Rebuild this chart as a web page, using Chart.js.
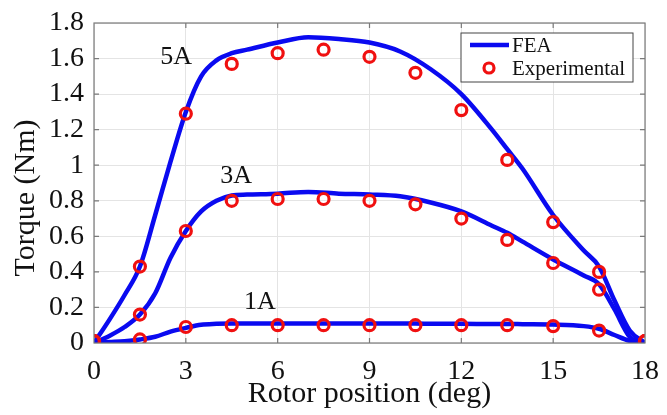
<!DOCTYPE html>
<html>
<head>
<meta charset="utf-8">
<script src="https://cdn.jsdelivr.net/npm/chart.js@4.4.0/dist/chart.umd.min.js"></script>
<style>
  html, body { margin: 0; padding: 0; background: #fff; }
  #wrap { width: 667px; height: 415px; }
</style>
</head>
<body>
<div id="wrap"><canvas id="torqueChart" width="667" height="415"></canvas></div>
<script>
// FEA curves (rotor position in deg, torque in Nm)
const feaX   = [0, 0.5, 1, 1.5, 2, 2.5, 3, 3.5, 4, 4.5, 5, 6, 7, 8, 9, 10, 11, 12, 13, 13.5, 14, 15, 16, 16.5, 17, 17.5, 18];
const fea5A  = [0, 0.13, 0.27, 0.43, 0.72, 1.02, 1.30, 1.50, 1.59, 1.63, 1.65, 1.69, 1.72, 1.71, 1.69, 1.64, 1.54, 1.40, 1.20, 1.09, 0.98, 0.72, 0.52, 0.43, 0.24, 0.07, 0];
const fea3A  = [0, 0.04, 0.09, 0.16, 0.28, 0.48, 0.63, 0.74, 0.80, 0.83, 0.835, 0.84, 0.85, 0.84, 0.835, 0.825, 0.79, 0.74, 0.66, 0.62, 0.57, 0.47, 0.38, 0.33, 0.19, 0.035, 0];
const fea1A  = [0, 0.005, 0.01, 0.02, 0.035, 0.064, 0.085, 0.103, 0.108, 0.11, 0.11, 0.11, 0.11, 0.11, 0.11, 0.11, 0.108, 0.108, 0.107, 0.107, 0.106, 0.104, 0.095, 0.08, 0.045, 0.012, 0];

// Experimental points
const expX   = [0, 1.5, 3, 4.5, 6, 7.5, 9, 10.5, 12, 13.5, 15, 16.5, 18];
const exp5A  = [0.01, 0.43, 1.29, 1.57, 1.63, 1.65, 1.61, 1.52, 1.31, 1.03, 0.68, 0.40, 0.01];
const exp3A  = [0.01, 0.16, 0.63, 0.80, 0.81, 0.81, 0.80, 0.78, 0.70, 0.58, 0.45, 0.30, 0.01];
const exp1A  = [0.01, 0.02, 0.09, 0.10, 0.10, 0.10, 0.10, 0.10, 0.10, 0.10, 0.095, 0.07, 0.01];

// curve labels
const curveLabels = ['5A', '3A', '1A'];
const labelX = [2.68, 4.64, 5.42];
const labelY = [1.61, 0.94, 0.23];

const blue = '#0a0af0';
const red = '#f01010';
const serif = "'Liberation Serif', 'Times New Roman', serif";

function pts(xs, ys) {
    return xs.map((x, i) => ({ x: x, y: ys[i] }));
}

function feaSet(ys, name) {
    return {
        label: name,
        data: pts(feaX, ys),
        showLine: true,
        borderColor: blue,
        borderWidth: 4.5,
        pointRadius: 0,
        fill: false,
        cubicInterpolationMode: 'monotone',
        order: 2
    };
}

function expSet(ys, name) {
    return {
        label: name,
        data: pts(expX, ys),
        showLine: false,
        pointStyle: 'circle',
        pointRadius: 5.5,
        pointBorderWidth: 3.2,
        pointBorderColor: red,
        pointBackgroundColor: 'rgba(0,0,0,0)',
        order: 1
    };
}

// frame, inner ticks, y title, curve labels and legend box
const extras = {
    id: 'extras',
    afterDraw(chart) {
        const c = chart.ctx;
        const a = chart.chartArea;
        const xs = chart.scales.x, ys = chart.scales.y;
        c.save();
        c.strokeStyle = '#7a7a7a';
        c.lineWidth = 1.2;
        c.strokeRect(a.left, a.top, a.right - a.left, a.bottom - a.top);
        // small inward ticks
        c.beginPath();
        for (let v = 3; v < 18; v += 3) {
            const px = xs.getPixelForValue(v);
            c.moveTo(px, a.top); c.lineTo(px, a.top + 5);
            c.moveTo(px, a.bottom); c.lineTo(px, a.bottom - 5);
        }
        for (let v = 0.2; v < 1.79; v += 0.2) {
            const py = ys.getPixelForValue(v);
            c.moveTo(a.right, py); c.lineTo(a.right - 5, py);
            c.moveTo(a.left, py); c.lineTo(a.left + 5, py);
        }
        c.stroke();

        c.fillStyle = '#111';
        // y axis title
        c.save();
        c.translate(26, 198);
        c.rotate(-Math.PI / 2);
        c.font = '30px ' + serif;
        c.textAlign = 'center';
        c.textBaseline = 'middle';
        c.fillText('Torque (Nm)', 0, 0);
        c.restore();

        // curve labels
        c.font = '26px ' + serif;
        c.textAlign = 'center';
        c.textBaseline = 'middle';
        curveLabels.forEach((t, i) => {
            c.fillText(t, xs.getPixelForValue(labelX[i]), ys.getPixelForValue(labelY[i]));
        });

        // legend
        const lx = 461, ly = 33, lw = 172, lh = 49;
        c.fillStyle = '#fff';
        c.fillRect(lx, ly, lw, lh);
        c.strokeStyle = '#444';
        c.lineWidth = 1;
        c.strokeRect(lx, ly, lw, lh);
        c.strokeStyle = blue;
        c.lineWidth = 4.5;
        c.beginPath();
        c.moveTo(470, 45); c.lineTo(509, 45);
        c.stroke();
        c.strokeStyle = red;
        c.lineWidth = 3.2;
        c.beginPath();
        c.arc(489, 68, 5, 0, Math.PI * 2);
        c.stroke();
        c.fillStyle = '#111';
        c.font = '21px ' + serif;
        c.textAlign = 'left';
        c.fillText('FEA', 512, 46);
        c.fillText('Experimental', 512, 69);
        c.restore();
    }
};

const ctx = document.getElementById('torqueChart').getContext('2d');
const torqueChart = new Chart(ctx, {
    type: 'scatter',
    data: {
        datasets: [
            expSet(exp5A, 'Experimental 5A'),
            expSet(exp3A, 'Experimental 3A'),
            expSet(exp1A, 'Experimental 1A'),
            feaSet(fea5A, 'FEA 5A'),
            feaSet(fea3A, 'FEA 3A'),
            feaSet(fea1A, 'FEA 1A')
        ]
    },
    options: {
        responsive: false,
        animation: false,
        layout: { padding: { top: 23, right: 22, left: 0, bottom: 0 } },
        plugins: {
            legend: { display: false },
            tooltip: { enabled: false }
        },
        scales: {
            x: {
                type: 'linear',
                min: 0, max: 18,
                ticks: {
                    stepSize: 3,
                    autoSkip: false,
                    maxRotation: 0,
                    color: '#111',
                    padding: 12,
                    font: { family: serif, size: 28 }
                },
                grid: { color: '#e4e4e4', drawTicks: false },
                border: { display: false },
                title: {
                    display: true,
                    text: 'Rotor position (deg)',
                    color: '#111',
                    padding: { top: 0, bottom: 3 },
                    font: { family: serif, size: 30 }
                },
                afterFit(scale) {
                    scale.height = 72;
                    scale.paddingLeft = 0;
                    scale.paddingRight = 0;
                }
            },
            y: {
                min: 0, max: 1.8,
                ticks: {
                    stepSize: 0.2,
                    autoSkip: false,
                    color: '#111',
                    padding: 10,
                    font: { family: serif, size: 28 },
                    callback: v => String(Number(v.toFixed(1)))
                },
                grid: { color: '#e4e4e4', drawTicks: false },
                border: { display: false },
                title: { display: false },
                afterFit(scale) {
                    scale.width = 94;
                    scale.paddingTop = 0;
                    scale.paddingBottom = 0;
                }
            }
        }
    },
    plugins: [extras]
});
</script>
</body>
</html>
